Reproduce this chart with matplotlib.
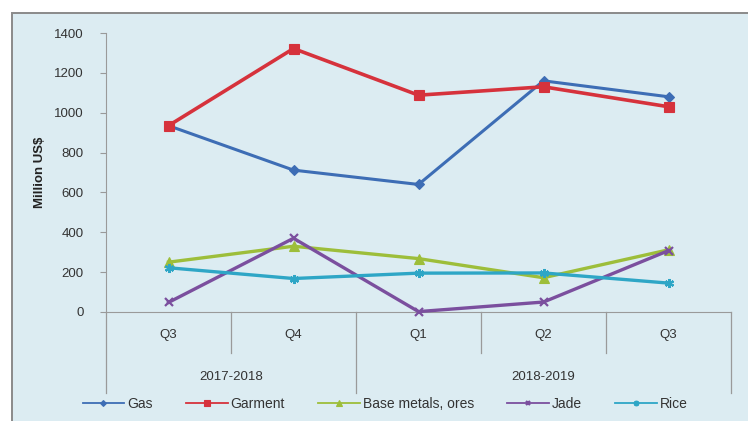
import matplotlib
matplotlib.use("Agg")
import matplotlib.pyplot as plt
from matplotlib.patches import Rectangle

plt.rcParams["font.family"] = ["Liberation Sans", "DejaVu Sans"]

quarters = ["Q3", "Q4", "Q1", "Q2", "Q3"]
years = ["2017-2018", "2018-2019"]
year_spans = [(0, 1), (2, 4)]

gas = [935, 712, 640, 1160, 1080]
garment = [935, 1322, 1088, 1130, 1030]
base_metals = [250, 330, 268, 172, 312]
jade = [48, 370, 2, 50, 308]
rice = [222, 168, 195, 196, 145]

series = [
    ("Gas", gas, "#3D6DB5", "D", 5, 2.2),
    ("Garment", garment, "#D6323C", "s", 7.5, 2.6),
    ("Base metals, ores", base_metals, "#9DBE3A", "^", 6.5, 2.4),
    ("Jade", jade, "#7B4F9E", "x", 5.5, 2.4),
    ("Rice", rice, "#2EA6C6", (6, 2, 0), 6.5, 2.4),
]

W, H = 748, 421
fig = plt.figure(figsize=(W / 100, H / 100), dpi=100)
fig.patch.set_facecolor("white")
panel = Rectangle((12 / W, -0.01), 1.0, 1 - 13 / H + 0.01,
                  transform=fig.transFigure, facecolor="#DCECF2",
                  edgecolor="#8A8A8A", linewidth=1.4, zorder=-5)
fig.patches.append(panel)

y0, y1 = 312, 33
ax = fig.add_axes([106 / W, 1 - y0 / H, 625 / W, (y0 - y1) / H])
ax.set_facecolor("none")
ax.set_zorder(2)

x = list(range(len(quarters)))
for name, vals, color, marker, ms, lw in series:
    ax.plot(x, vals, color=color, marker=marker, markersize=ms, linewidth=lw,
            markeredgewidth=1.6 if marker == "x" or isinstance(marker, tuple) else 0.8,
            markeredgecolor=color, label=name, clip_on=False, zorder=3)

ax.set_xlim(-0.5, 4.5)
ax.set_ylim(0, 1400)
ax.set_yticks(range(0, 1401, 200))
ax.set_xticks([])
ax.tick_params(axis="y", length=4, color="#999999", labelsize=9.5,
               labelcolor="#333333", pad=12)
for s in ["top", "right"]:
    ax.spines[s].set_visible(False)
ax.spines["left"].set_color("#9A9A9A")
ax.spines["bottom"].set_color("#9A9A9A")
ax.set_ylabel("Million US$", fontsize=9.5, fontweight="bold", color="#222222",
              labelpad=6)

# category axis: quarter and year labels with separators
tr = ax.get_xaxis_transform()
short_lo = -41 / (y0 - y1)
long_lo = -81 / (y0 - y1)
for i, q in enumerate(quarters):
    ax.text(i, -23 / (y0 - y1), q, transform=tr, ha="center", va="center",
            fontsize=9.5, color="#333333")
bounds = [-0.5, 0.5, 1.5, 2.5, 3.5, 4.5]
group_edges = {-0.5, 1.5, 4.5}
for b in bounds:
    lo = long_lo if b in group_edges else short_lo
    ax.plot([b, b], [0, lo], transform=tr, color="#9A9A9A", linewidth=0.9,
            clip_on=False)
for label, (a, b) in zip(years, year_spans):
    ax.text((a + b) / 2, -65 / (y0 - y1), label, transform=tr, ha="center",
            va="center", fontsize=9.5, color="#333333")

leg = fig.legend(loc="center", bbox_to_anchor=(385 / W, 1 - 404 / H), ncol=5,
                 frameon=False, fontsize=10, handlelength=3.0, columnspacing=2.4,
                 handletextpad=0.2, markerscale=0.6, labelcolor="#333333")
for h in leg.get_lines():
    h.set_linewidth(1.3)

fig.savefig("out.png", dpi=100)
